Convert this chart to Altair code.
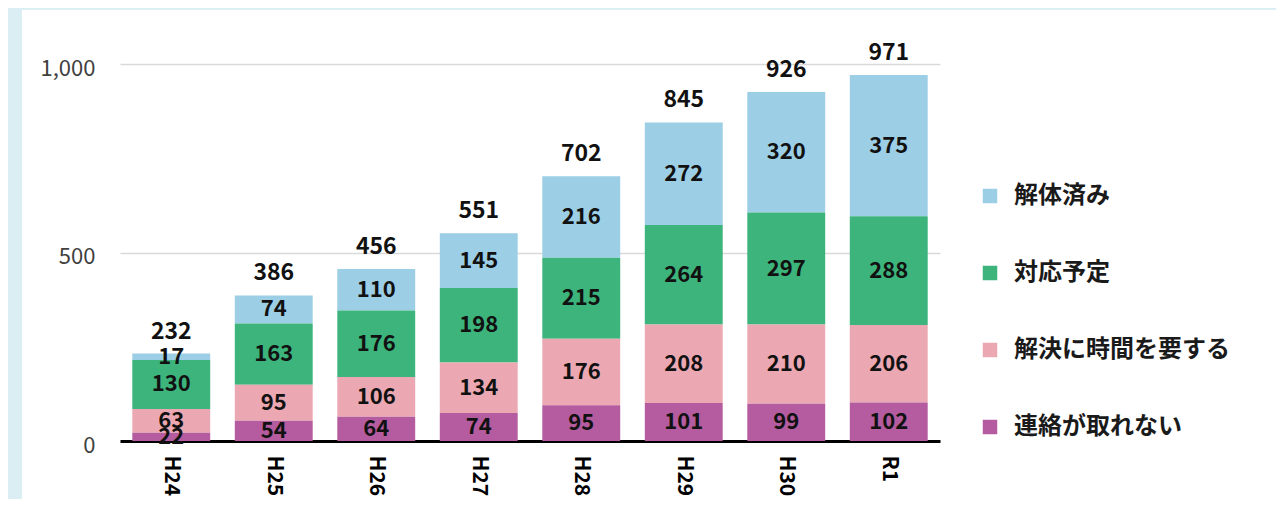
import altair as alt
import pandas as pd

years = ["H24", "H25", "H26", "H27", "H28", "H29", "H30", "R1"]
series = ["解体済み", "対応予定", "解決に時間を要する", "連絡が取れない"]
colors = ["#9ccee6", "#3cb47c", "#eca8b2", "#b45c9f"]
demolished = [17, 74, 110, 145, 216, 272, 320, 375]
planned = [130, 163, 176, 198, 215, 264, 297, 288]
time_needed = [63, 95, 106, 134, 176, 208, 210, 206]
unreachable = [22, 54, 64, 74, 95, 101, 99, 102]
y_ticks = [0, 500, 1000]

rows = []
for s, vals in zip(series, [demolished, planned, time_needed, unreachable]):
    for y, v in zip(years, vals):
        rows.append({"year": y, "series": s, "value": v, "ord": 3 - series.index(s)})
df = pd.DataFrame(rows)

FONT = "Noto Sans CJK JP"
FRAME = "#dbeef3"

x = alt.X(
    "year:N",
    sort=years,
    scale=alt.Scale(paddingInner=0.24, paddingOuter=0.12),
    axis=alt.Axis(
        title=None, labelAngle=90, labelAlign="left", labelBaseline="middle",
        labelFontSize=21, labelFontWeight="bold", labelColor="black",
        labelPadding=14, ticks=False, domainColor="black", domainWidth=3,
        grid=False, labelFont=FONT,
    ),
)

yscale = alt.Scale(domain=[0, 1000], nice=False)
yaxis = alt.Axis(
    title=None, values=y_ticks, format=",d", formatType="number", domain=False,
    ticks=False, labelFontSize=22, labelColor="#404040", labelOffset=4,
    labelPadding=25, gridColor="#d9d9d9", gridWidth=1.5, labelFont=FONT,
)

one = pd.DataFrame({"d": [0]})
frame_left = alt.Chart(one).mark_rect(color=FRAME).encode(
    x=alt.value(-112), x2=alt.value(-98), y=alt.value(-56), y2=alt.value(600)
)
frame_top = alt.Chart(one).mark_rect(color=FRAME).encode(
    x=alt.value(-112), x2=alt.value(1160), y=alt.value(-56), y2=alt.value(-54)
)

bars = alt.Chart(df).mark_bar().encode(
    x=x,
    y=alt.Y("value:Q", stack="zero", scale=yscale, axis=yaxis),
    color=alt.Color(
        "series:N",
        scale=alt.Scale(domain=series, range=colors),
        legend=alt.Legend(
            title=None, orient="none", legendX=858, legendY=120,
            symbolType="square", symbolSize=210, symbolStrokeWidth=0,
            labelFontSize=24, labelFont=FONT, labelFontWeight="bold",
            labelColor="#1a1a1a", rowPadding=53, labelLimit=400, padding=0,
            labelOffset=12,
        ),
    ),
    order=alt.Order("ord:Q", sort="ascending"),
)

seg = (
    alt.Chart(df)
    .transform_stack(
        stack="value", groupby=["year"], as_=["y0", "y1"],
        sort=[alt.SortField("ord", order="ascending")],
    )
    .transform_calculate(mid="(datum.y0 + datum.y1) / 2")
    .mark_text(font=FONT, fontSize=22, fontWeight="bold", color="#111111")
    .encode(x=x, y=alt.Y("mid:Q", scale=yscale, axis=yaxis), text="value:Q")
)

tot = (
    alt.Chart(df)
    .transform_aggregate(total="sum(value)", groupby=["year"])
    .mark_text(font=FONT, fontSize=23, fontWeight="bold", color="#111111", dy=-22)
    .encode(x=x, y=alt.Y("total:Q", scale=yscale, axis=yaxis), text="total:Q")
)

chart = (
    alt.layer(frame_left, frame_top, bars, seg, tot)
    .properties(
        width=820, height=377,
        autosize=alt.AutoSizeParams(type="none"),
        padding={"left": 112, "top": 56, "right": 336, "bottom": 58},
    )
    .configure(font=FONT, background="white")
    .configure_view(strokeWidth=0)
)

chart.save("out.html", embed_options={"renderer": "svg", "actions": False})
